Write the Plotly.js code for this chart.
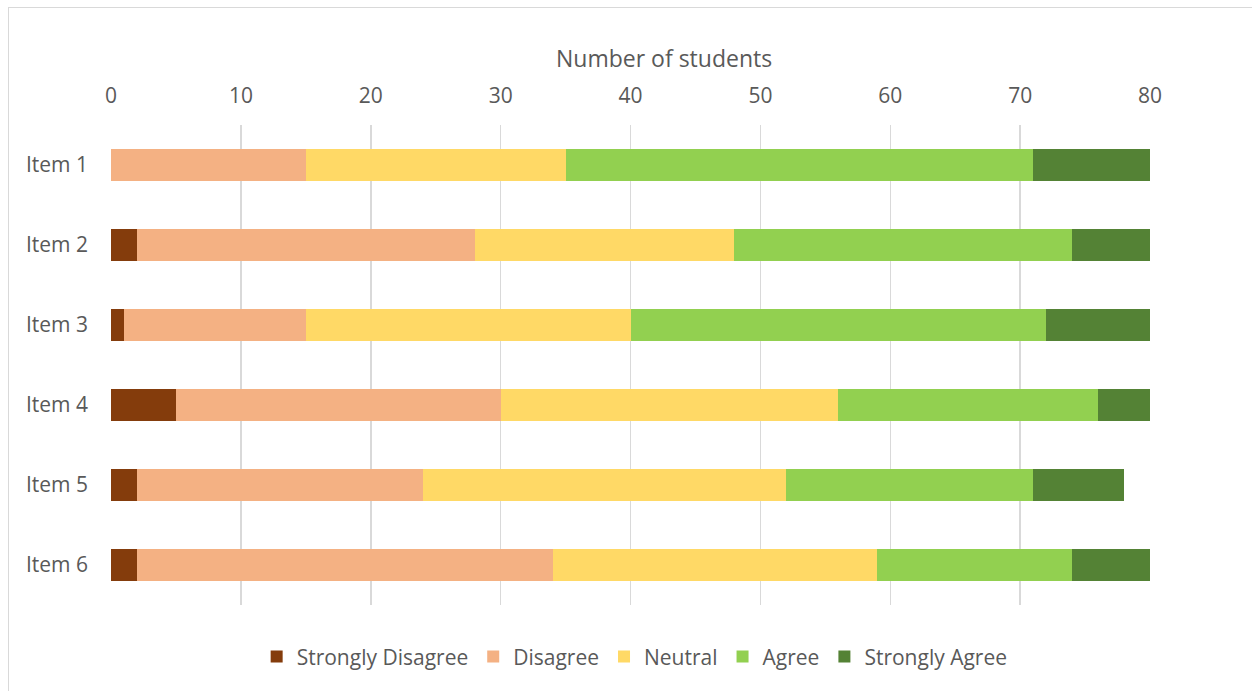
<!DOCTYPE html>
<html>
<head>
<meta charset="utf-8">
<script src="https://cdn.plot.ly/plotly-3.0.1.min.js"></script>
<style>
  html, body { margin: 0; padding: 0; background: #fff; overflow: hidden; }
  #chart { width: 1252px; height: 691px; position: relative; }
  #frame { position: absolute; left: 8px; top: 7px; width: 1400px; height: 900px;
           border-left: 1px solid #d9d9d9; border-top: 1px solid #d9d9d9; pointer-events: none; }
</style>
</head>
<body>
<div id="chart"></div>
<div id="frame"></div>
<script>
const categories = ["Item 1", "Item 2", "Item 3", "Item 4", "Item 5", "Item 6"];
const seriesNames = ["Strongly Disagree", "Disagree", "Neutral", "Agree", "Strongly Agree"];
const stronglyDisagree = [0, 2, 1, 5, 2, 2];
const disagree         = [15, 26, 14, 25, 22, 32];
const neutral          = [20, 20, 25, 26, 28, 25];
const agree            = [36, 26, 32, 20, 19, 15];
const stronglyAgree    = [9, 6, 8, 4, 7, 6];
const xTicks = [0, 10, 20, 30, 40, 50, 60, 70, 80];
const xTitle = "Number of students";

const colors = ["#843C0C", "#F4B183", "#FFD966", "#92D050", "#548235"];
const values = [stronglyDisagree, disagree, neutral, agree, stronglyAgree];

const traces = values.map((v, i) => ({
  type: "bar",
  orientation: "h",
  name: seriesNames[i],
  y: categories,
  x: v,
  marker: { color: colors[i], line: { width: 0 } },
  hoverinfo: "x+name"
}));

const font = { family: "Open Sans, sans-serif", size: 21, color: "#595959" };

const layout = {
  width: 1252, height: 691,
  margin: { l: 111, r: 102, t: 125, b: 86 },
  barmode: "stack",
  bargap: 0.6,
  paper_bgcolor: "#ffffff",
  plot_bgcolor: "#ffffff",
  font: font,
  showlegend: true,
  legend: {
    orientation: "h",
    x: 0.504, xanchor: "center",
    y: -0.108, yanchor: "middle",
    font: font,
    traceorder: "normal",
    itemwidth: 30
  },
  annotations: [{
    text: xTitle,
    xref: "paper", yref: "paper",
    x: 0.532, xanchor: "center",
    y: 1 + (125 - 58) / 480, yanchor: "middle",
    showarrow: false,
    font: { family: "Open Sans, sans-serif", size: 23, color: "#595959" }
  }],
  xaxis: {
    side: "top",
    range: [0, 80],
    tickvals: xTicks,
    ticktext: xTicks.map(String),
    showgrid: true,
    gridcolor: "#d9d9d9",
    gridwidth: 1.5,
    zeroline: false,
    showline: false,
    ticks: "",
    ticklabelstandoff: 17,
    tickfont: font
  },
  yaxis: {
    type: "category",
    categoryorder: "array",
    categoryarray: categories,
    autorange: "reversed",
    showgrid: false,
    zeroline: false,
    showline: false,
    ticks: "",
    ticklabelstandoff: 22,
    tickfont: font
  }
};

Plotly.newPlot("chart", traces, layout, { displayModeBar: false, staticPlot: true });
</script>
</body>
</html>
